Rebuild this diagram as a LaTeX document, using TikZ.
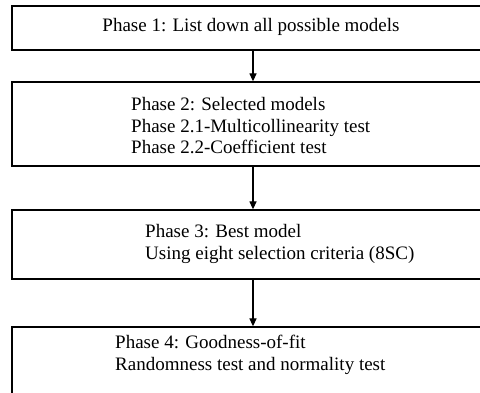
\documentclass[tikz,border=0pt]{standalone}
\usepackage{fontspec}
\setmainfont{Liberation Serif}
\usetikzlibrary{arrows.meta}

\tikzset{
  phasebox/.style={draw=black,line width=1.3pt,minimum width=482pt,inner sep=0pt},
  phasetext/.style={font=\fontsize{19}{21.5}\selectfont,align=left,inner sep=0pt},
  flow/.style={line width=1.3pt,-{Triangle[width=7pt,length=8pt]}}
}

\begin{document}
\begin{tikzpicture}[x=1pt,y=-1pt]
  \clip (0,0) rectangle (480,393);
  \fill[white] (0,0) rectangle (480,393);
  % --- Les quatre phases ---
  \node[phasebox,minimum height=44pt] (p1) at (253,28) {};
  \node[phasebox,minimum height=84pt] (p2) at (253,124) {};
  \node[phasebox,minimum height=69pt] (p3) at (253,244.5) {};
  \node[phasebox,minimum height=90pt] (p4) at (253,372) {};
  % --- Textes ---
  \node[phasetext] (t1) at (251,27) {Phase 1: List down all possible models};
  \node[phasetext,anchor=west] (t2) at (131,126) {Phase 2: Selected models\\
    Phase 2.1-Multicollinearity test\\ Phase 2.2-Coefficient test};
  \node[phasetext,anchor=west] (t3) at (145,244) {Phase 3: Best model\\
    Using eight selection criteria (8SC)};
  \node[phasetext,anchor=west] (t4) at (115,355) {Phase 4: Goodness-of-fit\\
    Randomness test and normality test};
  % --- Flèches ---
  \draw[flow] (p1) -- (p2);
  \draw[flow] (p2) -- (p3);
  \draw[flow] (p3) -- (p4);
\end{tikzpicture}
\end{document}
